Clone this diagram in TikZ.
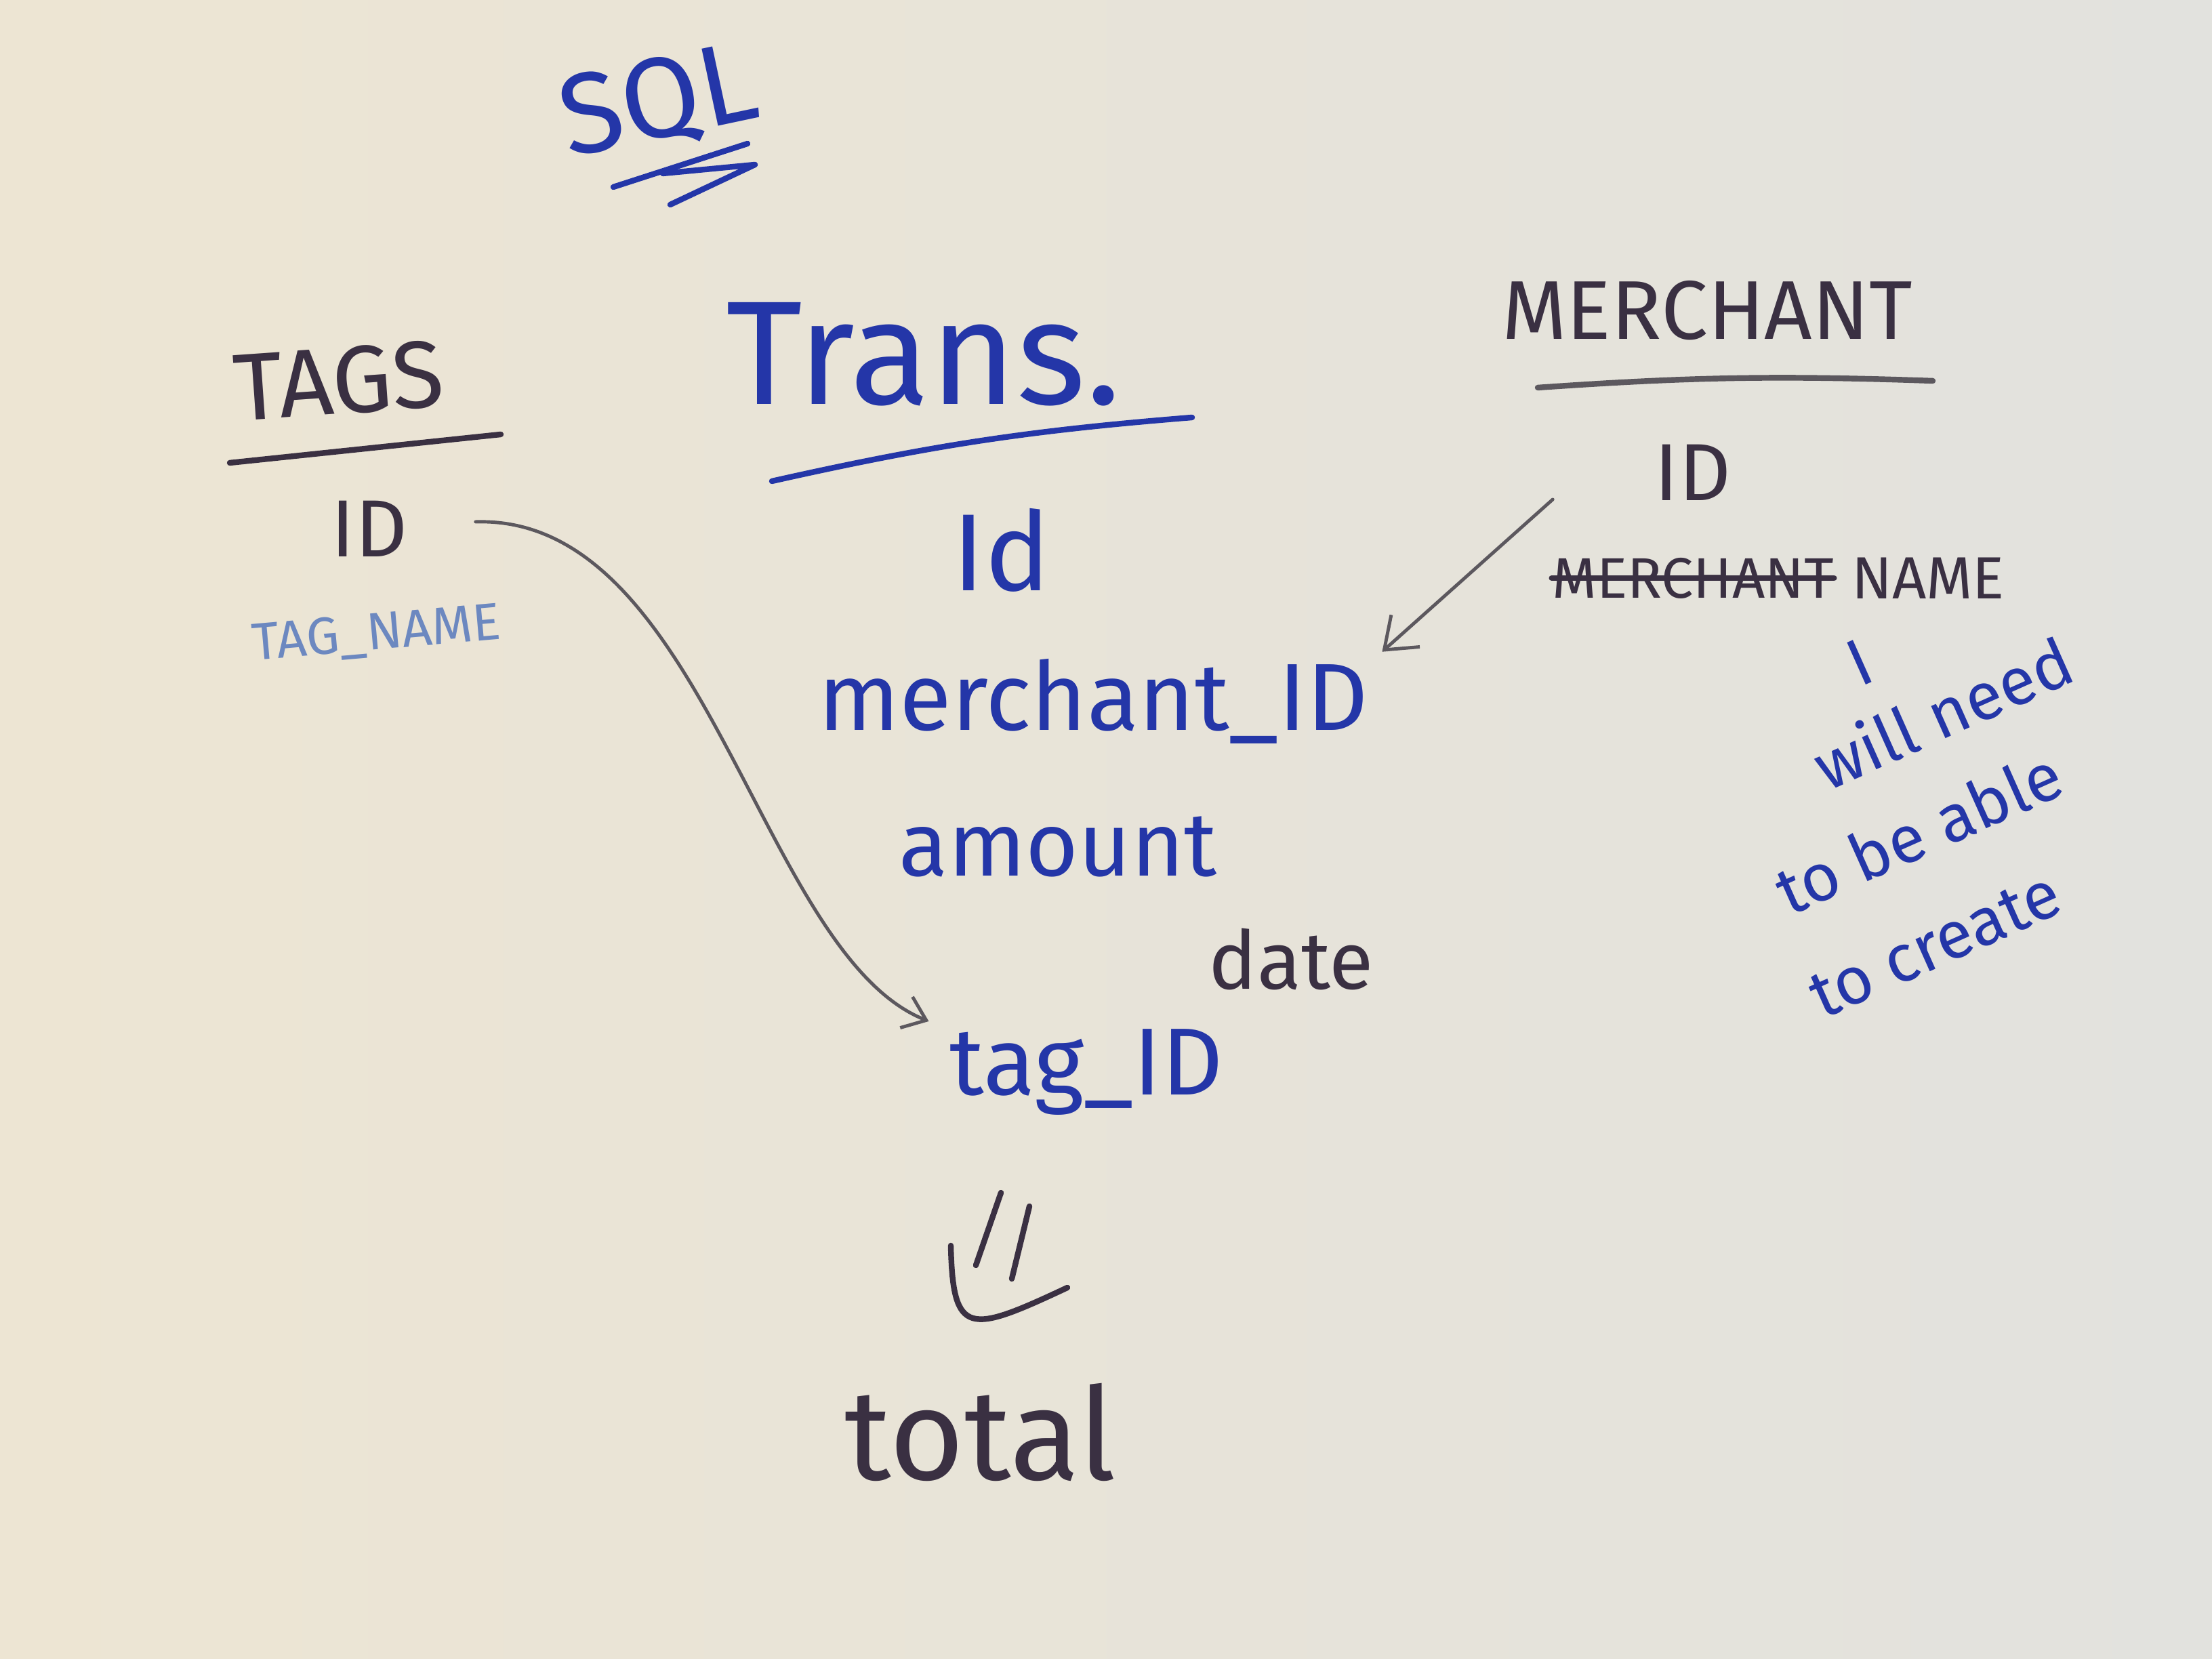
\documentclass[tikz,border=0pt]{standalone}
\usepackage{fontspec}
\setmainfont{Fira Sans}
\usetikzlibrary{arrows.meta,calc,positioning}

\definecolor{boardl}{RGB}{237,229,211}
\definecolor{boardr}{RGB}{226,226,222}
\definecolor{blueink}{RGB}{36,54,168}
\definecolor{lightink}{RGB}{108,136,192}
\definecolor{darkink}{RGB}{58,48,66}
\definecolor{greyink}{RGB}{92,88,94}

\newcommand{\fsz}[1]{\fontsize{#1}{#1}\selectfont}

\tikzset{
  txt/.style={inner sep=0pt},
  bluetxt/.style={txt, text=blueink},
  darktxt/.style={txt, text=darkink},
  underline/.style={line width=2.4pt, line cap=round, line join=round},
  conn/.style={greyink, line width=1.4pt, line cap=round},
}

\begin{document}
\begin{tikzpicture}
\shade[left color=boardl, right color=boardr] (0,0) rectangle (32.64,24.48);
\useasboundingbox (0,0) rectangle (32.64,24.48);

% heading
\node[bluetxt, rotate=12, font=\fsz{48pt}] (sql) at (9.72,22.95) {SQL};
\draw[blueink, underline] (9.05,21.72) -- (11.03,22.36);
\draw[blueink, underline] (9.78,21.92) -- (11.14,22.05) -- (9.89,21.46);

% tags table
\node[darktxt, rotate=4, font=\fsz{40pt}] (tags) at (5.00,18.86) {TAGS};
\draw[darkink, underline] (3.39,17.65) -- (7.39,18.07);
\node[darktxt, font=\fsz{34pt}] (tagsid) at (5.45,16.68) {ID};
\node[txt, text=lightink, rotate=5, font=\fsz{22pt}] (tagname) at (5.56,15.11) {TAG\_NAME};

% transactions table
\node[bluetxt, font=\fsz{62pt}] (trans) at (13.63,19.25) {Trans.};
\draw[blueink, underline] (11.39,17.38) to[bend left=4] (17.59,18.32);
\node[bluetxt, font=\fsz{46pt}] (transid) at (14.78,16.36) {Id};
\node[bluetxt, font=\fsz{40pt}] (merchid) at (16.13,14.13) {merchant\_ID};
\node[bluetxt, font=\fsz{38pt}] (amount) at (15.61,11.99) {amount};
\node[darktxt, font=\fsz{34pt}] (date) at (19.05,10.33) {date};
\node[bluetxt, font=\fsz{40pt}] (tagid) at (16.03,8.66) {tag\_ID};

% result
\draw[darkink, underline] (14.77,6.88) -- (14.40,5.81);
\draw[darkink, underline] (15.19,6.68) -- (14.93,5.61);
\draw[darkink, underline] (14.03,6.10) .. controls (14.06,4.75) and (14.30,4.80) .. (15.75,5.48);
\node[darktxt, font=\fsz{54pt}] (total) at (14.47,3.35) {total};

% merchant table
\node[darktxt, font=\fsz{35pt}] (merchant) at (25.19,19.90) {MERCHANT};
\draw[greyink, underline] (22.69,18.76) to[bend left=3] (28.52,18.86);
\node[darktxt, font=\fsz{34pt}] (merchantid) at (24.98,17.51) {ID};
\node[darktxt, font=\fsz{24pt}] (struck) at (24.98,15.95) {MERCHANT};
\node[darktxt, font=\fsz{25pt}, right=0.25cm of struck] (merchname) {NAME};
\draw[darkink, underline] (struck.west) -- (struck.east);

% note
\node[bluetxt, rotate=24, font=\fsz{28pt}] (note1) at (27.44,14.70) {I};
\node[bluetxt, rotate=24, font=\fsz{28pt}] (note2) at (28.66,13.97) {will need};
\node[bluetxt, rotate=24, font=\fsz{28pt}] (note3) at (28.31,12.20) {to be able};
\node[bluetxt, rotate=24, font=\fsz{28pt}] (note4) at (28.56,10.53) {to create};

% links
\coordinate (tagend) at ($(tagid.west)+(-0.3,0.75)$);
\draw[conn, -{Straight Barb[length=9pt,width=14pt]}] ($(tagsid.east)+(1.0,0.1)$) .. controls +(3.4,0.1) and +(-2.5,1.0) .. (tagend);
\draw[conn, -{Straight Barb[length=12pt,width=18pt]}] ($(merchantid.west)+(-1.5,-0.4)$) -- ($(merchid.north east)+(0.2,0.1)$);
\end{tikzpicture}
\end{document}
